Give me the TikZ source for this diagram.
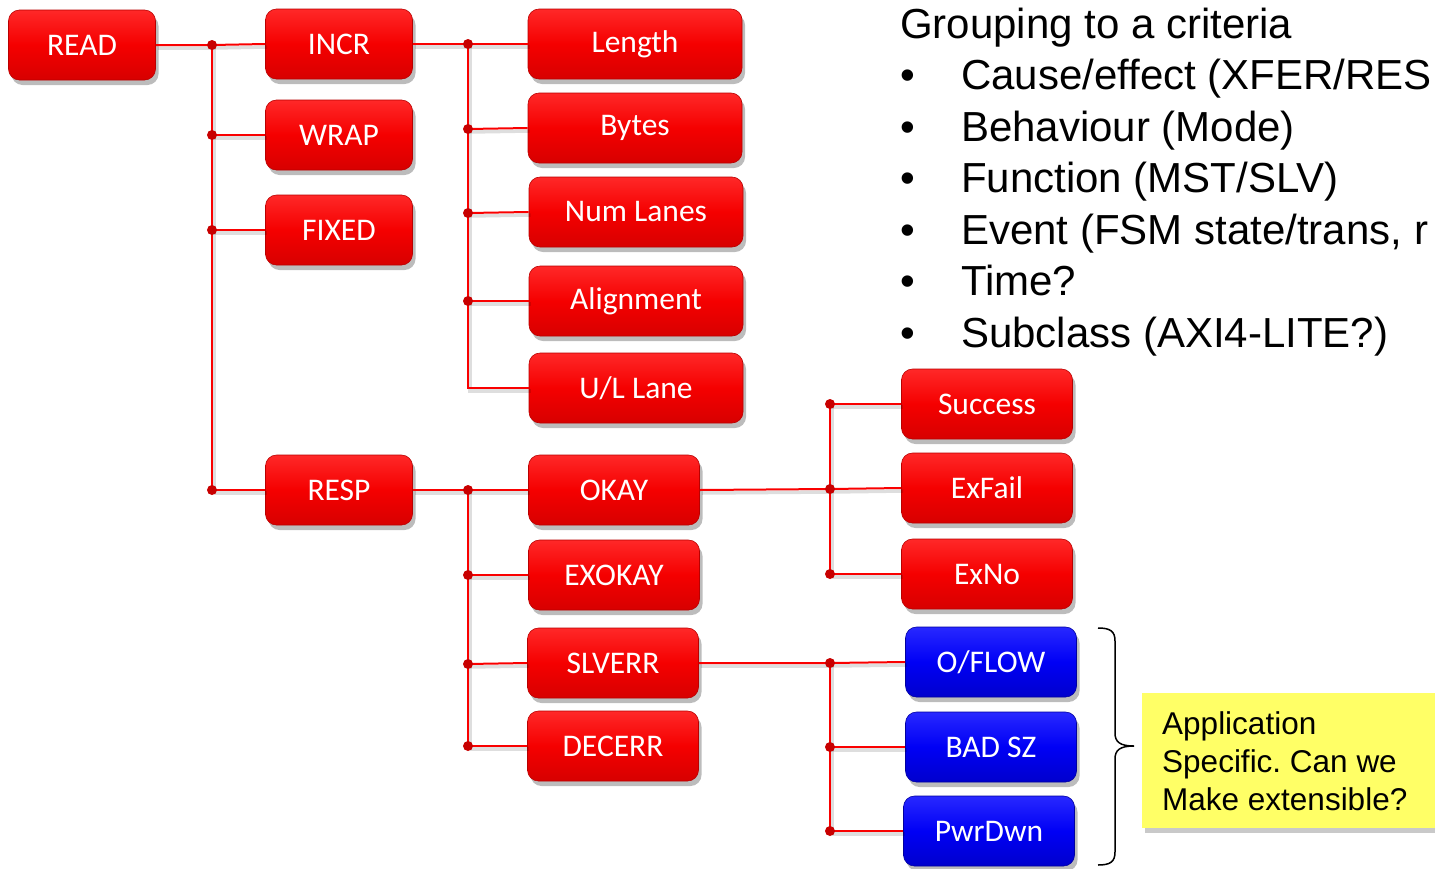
\documentclass[tikz,border=0pt]{standalone}
\usepackage{fontspec}
\setmainfont{Liberation Sans}
\newfontfamily\boxfont{Carlito}
\usetikzlibrary{shadows}
\frenchspacing

\definecolor{redtop}{RGB}{255,40,40}
\definecolor{redmid}{RGB}{245,0,0}
\definecolor{redbot}{RGB}{215,0,0}
\definecolor{redline}{RGB}{185,0,0}
\definecolor{bluetop}{RGB}{40,40,255}
\definecolor{bluemid}{RGB}{0,0,245}
\definecolor{bluebot}{RGB}{0,0,205}
\definecolor{blueline}{RGB}{0,0,160}
\definecolor{connred}{RGB}{250,0,0}
\definecolor{dotred}{RGB}{200,0,0}
\definecolor{noteyellow}{RGB}{255,255,102}

\tikzset{
  x=1pt, y=-1pt,
  basebox/.style={rounded corners=11pt, minimum height=70pt, inner sep=0pt,
    text=white, font=\boxfont\fontsize{31.5}{36}\selectfont, line width=0.6pt,
    drop shadow={shadow xshift=3pt, shadow yshift=-5pt, opacity=0.35, fill=black!75}},
  redbox/.style={basebox, draw=redline, top color=redtop, bottom color=redbot, middle color=redmid},
  bluebox/.style={basebox, draw=blueline, top color=bluetop, bottom color=bluebot, middle color=bluemid},
  wA/.style={minimum width=147pt},
  wB/.style={minimum width=214pt},
  wC/.style={minimum width=171pt},
  conn/.style={draw=connred, line width=2pt},
  connshadow/.style={draw=black, opacity=0.13, line width=3.5pt},
  dotstyle/.style={fill=dotred, draw=none},
  listtext/.style={font=\fontsize{42}{50}\selectfont, anchor=base west, inner sep=0pt},
  notetext/.style={font=\fontsize{31.5}{38}\selectfont, align=left, inner sep=0pt, anchor=west},
}

\newcommand\allconnectors[1]{%
  % READ tree
  \draw[#1] (READ.east) -- (jR1) -- (INCR.west);
  \draw[#1] (jR1) -- (jR4);
  \draw[#1] (jR2) -- (WRAP.west);
  \draw[#1] (jR3) -- (FIXED.west);
  \draw[#1] (jR4) -- (RESP.west);
  % INCR tree
  \draw[#1] (INCR.east) -- (jI1) -- (Length.west);
  \draw[#1] (jI1) -- (jI5) -- (ULLane.west);
  \draw[#1] (jI2) -- (Bytes.west);
  \draw[#1] (jI3) -- (NumLanes.west);
  \draw[#1] (jI4) -- (Alignment.west);
  % RESP tree
  \draw[#1] (RESP.east) -- (jS1) -- (OKAY.west);
  \draw[#1] (jS1) -- (jS4);
  \draw[#1] (jS2) -- (EXOKAY.west);
  \draw[#1] (jS3) -- (SLVERR.west);
  \draw[#1] (jS4) -- (DECERR.west);
  % OKAY tree
  \draw[#1] (OKAY.east) -- (jO2) -- (ExFail.west);
  \draw[#1] (jO1) -- (jO3);
  \draw[#1] (jO1) -- (Success.west);
  \draw[#1] (jO3) -- (ExNo.west);
  % SLVERR tree
  \draw[#1] (SLVERR.east) -- (jV1) -- (OFLOW.west);
  \draw[#1] (jV1) -- (jV3);
  \draw[#1] (jV2) -- (BADSZ.west);
  \draw[#1] (jV3) -- (PwrDwn.west);
}

\begin{document}
\begin{tikzpicture}
\useasboundingbox (0,0) rectangle (1435,868);
\clip (0,0) rectangle (1435,868);

% junction coordinates
\coordinate (jR1) at (212,45);
\coordinate (jR2) at (212,135);
\coordinate (jR3) at (212,230);
\coordinate (jR4) at (212,490);
\coordinate (jI1) at (468,44);
\coordinate (jI2) at (468,129);
\coordinate (jI3) at (468,213);
\coordinate (jI4) at (468,301);
\coordinate (jI5) at (468,388);
\coordinate (jS1) at (468,490);
\coordinate (jS2) at (468,575);
\coordinate (jS3) at (468,664);
\coordinate (jS4) at (468,746);
\coordinate (jO1) at (830,404);
\coordinate (jO2) at (830,489);
\coordinate (jO3) at (830,574);
\coordinate (jV1) at (830,663);
\coordinate (jV2) at (830,747);
\coordinate (jV3) at (830,831);

% boxes
\node[redbox, wA] (READ)  at (82,45)  {READ};
\node[redbox, wA] (INCR)  at (339,44) {INCR};
\node[redbox, wA] (WRAP)  at (339,135) {WRAP};
\node[redbox, wA] (FIXED) at (339,230) {FIXED};
\node[redbox, wA] (RESP)  at (339,490) {RESP};

\node[redbox, wB] (Length)    at (635,44)  {Length};
\node[redbox, wB] (Bytes)     at (635,128) {Bytes};
\node[redbox, wB] (NumLanes)  at (636,212) {Num Lanes};
\node[redbox, wB] (Alignment) at (636,301) {Alignment};
\node[redbox, wB] (ULLane)    at (636,388) {U/L Lane};

\node[redbox, wC] (OKAY)   at (614,490) {OKAY};
\node[redbox, wC] (EXOKAY) at (614,575) {EXOKAY};
\node[redbox, wC] (SLVERR) at (613,663) {SLVERR};
\node[redbox, wC] (DECERR) at (613,746) {DECERR};

\node[redbox, wC] (Success) at (987,404) {Success};
\node[redbox, wC] (ExFail)  at (987,488) {ExFail};
\node[redbox, wC] (ExNo)    at (987,574) {ExNo};

\node[bluebox, wC] (OFLOW)  at (991,662) {O/FLOW};
\node[bluebox, wC] (BADSZ)  at (991,747) {BAD SZ};
\node[bluebox, wC] (PwrDwn) at (989,831) {PwrDwn};

% connectors: shadow then line
\begin{scope}[transform canvas={shift={(2pt,-3pt)}}]
  \allconnectors{connshadow}
\end{scope}
\allconnectors{conn}

% junction dots
\foreach \j in {jR1,jR2,jR3,jR4,jI1,jI2,jI3,jI4,jS1,jS2,jS3,jS4,jO1,jO2,jO3,jV1,jV2,jV3}
  \fill[dotstyle] (\j) circle (5pt);

% brace
\coordinate (braceTop) at (1098,628);
\coordinate (braceTip) at (1134,746);
\coordinate (braceBot) at (1098,865);
\draw[line width=1.5pt, black]
  (braceTop) .. controls (1110,628) and (1115,631) .. (1115,641)
  -- (1115,733) .. controls (1115,742) and (1120,746) .. (braceTip)
  .. controls (1120,746) and (1115,750) .. (1115,759)
  -- (1115,852) .. controls (1115,862) and (1110,865) .. (braceBot);

% yellow note
\node[fill=noteyellow, draw=none, anchor=north west, minimum width=320pt, minimum height=135pt,
      drop shadow={shadow xshift=3pt, shadow yshift=-5pt, opacity=0.3, fill=black!70}] (note) at (1142,693) {};
\node[notetext] (notetxt) at (1162,761) {Application\\Specific. Can we\\Make extensible?};

% list text
\node[listtext] (title) at (900,38) {Grouping to a criteria};
\node[listtext] (b1) at (900,89.5)  {\textbullet};
\node[listtext] (t1) at (961,89.5)  {Cause/effect (XFER/RES};
\node[listtext] (b2) at (900,141)   {\textbullet};
\node[listtext] (t2) at (961,141)   {Behaviour (Mode)};
\node[listtext] (b3) at (900,192.5) {\textbullet};
\node[listtext] (t3) at (961,192.5) {Function (MST/SLV)};
\node[listtext] (b4) at (900,244)   {\textbullet};
\node[listtext] (t4) at (961,244)   {Event (FSM state/trans, r};
\node[listtext] (b5) at (900,295.5) {\textbullet};
\node[listtext] (t5) at (961,295.5) {Time?};
\node[listtext] (b6) at (900,347)   {\textbullet};
\node[listtext] (t6) at (961,347)   {Subclass (AXI4-LITE?)};
\end{tikzpicture}
\end{document}
